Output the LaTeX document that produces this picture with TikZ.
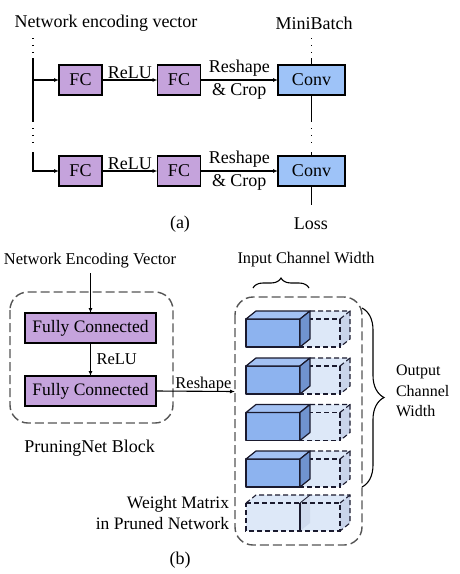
\documentclass[tikz,border=0pt]{standalone}
\usepackage{fontspec}
\setmainfont{Liberation Serif}
\usetikzlibrary{arrows.meta,decorations.pathreplacing}
\definecolor{fcpurple}{HTML}{C5A3DC}
\definecolor{convblue}{HTML}{9EC3F8}
\definecolor{cubefront}{HTML}{8DB3EF}
\definecolor{cubetop}{HTML}{A3C1F3}
\definecolor{cubeside}{HTML}{7093CF}
\definecolor{ghost}{HTML}{DDE8F8}
\definecolor{ghostside}{HTML}{C9D4EA}
\definecolor{dashgray}{HTML}{555555}
\definecolor{edgedark}{HTML}{1A1A2E}
\begin{document}
\begin{tikzpicture}[x=1pt,y=-1pt,
  every node/.style={inner sep=0pt, outer sep=0pt},
  fa/.style={font=\fontsize{18}{23}\selectfont},
  fnev/.style={font=\fontsize{16.5}{20}\selectfont},
  fwide/.style={font=\fontsize{17.5}{21}\selectfont},
  fsmall/.style={font=\fontsize{16.5}{20}\selectfont},
  fpb/.style={font=\fontsize{18}{22}\selectfont},
  fic/.style={font=\fontsize{16.3}{20}\selectfont},
  foc/.style={font=\fontsize{16}{20.5}\selectfont},
  fwm/.style={font=\fontsize{17.5}{21}\selectfont},
  fcbox/.style={draw, line width=1.2pt, fill=fcpurple, minimum width=43pt, minimum height=30pt, fa},
  convbox/.style={draw, line width=1.2pt, fill=convblue, minimum width=67pt, minimum height=30pt, fa},
  fcwide/.style={draw, line width=1.2pt, fill=fcpurple, minimum width=131pt, minimum height=30pt, fwide},
  conn/.style={line width=1.1pt},
  arr/.style={conn, -{Latex[length=5pt,width=4pt]}},
  dotline/.style={line width=1.3pt, dash pattern=on 1.3pt off 5.6pt},
  group/.style={draw=dashgray, line width=1.4pt, dash pattern=on 9pt off 4pt, rounded corners=18pt},
  cubeedge/.style={draw=edgedark, line width=1.2pt, line join=round},
  ghostedge/.style={draw=edgedark, line width=1.1pt, dash pattern=on 5pt off 3pt},
  bracestyle/.style={line width=1.1pt, decorate},
]
\useasboundingbox (0,0) rectangle (459,574);

% ---------------- (a) ----------------
\node[fa] (nev) at (106,23) {Network encoding vector};
\node[fa] (mb) at (314,23) {MiniBatch};

\node[fcbox] (fc11) at (80.5,80) {FC};
\node[fcbox] (fc12) at (179,80) {FC};
\node[convbox] (conv1) at (311.5,80) {Conv};
\node[fcbox] (fc21) at (80.5,171) {FC};
\node[fcbox] (fc22) at (179,171) {FC};
\node[convbox] (conv2) at (311.5,171) {Conv};

% left trunk
\coordinate (t0) at (33,38);
\coordinate (t1) at (33,53);
\coordinate (t2) at (33,58);
\coordinate (t3) at (33,122);
\coordinate (t4) at (33,128);
\coordinate (t5) at (33,142);
\coordinate (t6) at (33,152);
\coordinate (b1) at (33,80);
\draw[dotline] (t0) -- (t1);
\draw[conn] (t2) -- (t3);
\draw[dotline] (t4) -- (t5);
\draw[arr] (b1) -- (fc11.west);
\draw[arr] (t6) |- (fc21.west);

% rows
\draw[arr] (fc11.east) -- node[midway, above=1.5pt, fa] {ReLU} (fc12.west);
\draw[arr] (fc12.east) -- node[midway, fa, align=center] {Reshape\\\& Crop} (conv1.west);
\draw[arr] (fc21.east) -- node[midway, above=1.5pt, fa] {ReLU} (fc22.west);
\draw[arr] (fc22.east) -- node[midway, fa, align=center] {Reshape\\\& Crop} (conv2.west);

% conv column
\coordinate (c0) at (311.5,38);
\coordinate (c1) at (311.5,53);
\coordinate (c2) at (311.5,58);
\coordinate (c3) at (311.5,122);
\coordinate (c4) at (311.5,128);
\coordinate (c5) at (311.5,142);
\coordinate (c6) at (311.5,152);
\coordinate (c7) at (311.5,205);
\draw[dotline] (c0) -- (c1);
\draw[conn] (c2) -- (conv1.north);
\draw[conn] (conv1.south) -- (c3);
\draw[dotline] (c4) -- (c5);
\draw[conn] (c6) -- (conv2.north);
\draw[conn] (conv2.south) -- (c7);
\node[fa] (loss) at (311,224) {Loss};
\node[fa] (capa) at (180,224) {(a)};

% ---------------- (b) ----------------
\node[fnev] (nevb) at (90,261) {Network Encoding Vector};
\node[fcwide] (fcb1) at (90.5,328) {Fully Connected};
\node[fcwide] (fcb2) at (90.5,391) {Fully Connected};
\coordinate (nevtail) at (90.5,273);
\draw[arr] (nevtail) -- (fcb1.north);
\draw[arr] (fcb1.south) -- node[midway, right=6pt, fsmall] {ReLU} (fcb2.north);
\draw[group] (10,292) rectangle (173,423);
\node[fpb] (pnb) at (89.5,448) {PruningNet Block};

\draw[group] (235,297) rectangle (362,545);
\coordinate (rin) at (235,391.5);
\draw[arr] (fcb2.east) -- node[pos=0.6, anchor=base, yshift=2.5pt, fsmall] {Reshape} (rin);

\node[fic] (icw) at (306,260) {Input Channel Width};
\draw[bracestyle, decoration={brace, amplitude=10pt}] (253,288) -- (309,288);
\draw[bracestyle, decoration={brace, amplitude=22pt}] (362,308) -- (362,487);
\node[foc, anchor=west, align=left] (ocw) at (396,391) {Output\\Channel\\Width};
\node[fwm, anchor=east, align=right] (wm) at (229,513.5) {Weight Matrix\\in Pruned Network};
\node[fa] (capb) at (180,560) {(b)};

% cuboids
\foreach \t in {319,366,412.5,459}{
  \pgfmathsetmacro\bb{\t+28}
  \pgfmathsetmacro\uu{\t-8}
  \pgfmathsetmacro\vv{\t+20}
  \fill[ghost] (300,\t) rectangle (340,\bb);
  \fill[ghost] (300,\t) -- (310,\uu) -- (350,\uu) -- (340,\t) -- cycle;
  \fill[ghostside] (340,\t) -- (350,\uu) -- (350,\vv) -- (340,\bb) -- cycle;
  \draw[ghostedge] (300,\t) -- (340,\t) -- (340,\bb) -- (300,\bb);
  \draw[ghostedge] (310,\uu) -- (350,\uu) -- (350,\vv) -- (340,\bb);
  \draw[ghostedge] (340,\t) -- (350,\uu);
  \filldraw[cubeedge, fill=cubefront] (246,\t) rectangle (300,\bb);
  \filldraw[cubeedge, fill=cubetop] (246,\t) -- (256,\uu) -- (310,\uu) -- (300,\t) -- cycle;
  \filldraw[cubeedge, fill=cubeside] (300,\t) -- (310,\uu) -- (310,\vv) -- (300,\bb) -- cycle;
}
% empty (pruned) row
\fill[ghost] (246,503) rectangle (340,531);
\fill[ghost] (246,503) -- (256,495) -- (350,495) -- (340,503) -- cycle;
\fill[ghostside] (340,503) -- (350,495) -- (350,523) -- (340,531) -- cycle;
\fill[ghostside!70!ghost] (300,503) -- (310,495) -- (310,523) -- (300,531) -- cycle;
\draw[ghostedge] (246,503) -- (340,503) -- (340,531) -- (246,531) -- cycle;
\draw[ghostedge] (246,503) -- (256,495) -- (350,495) -- (350,523) -- (340,531);
\draw[ghostedge] (340,503) -- (350,495);
\draw[cubeedge] (300,503) -- (300,531);
\draw[cubeedge, line width=0.8pt] (300,503) -- (310,495);
\end{tikzpicture}
\end{document}
